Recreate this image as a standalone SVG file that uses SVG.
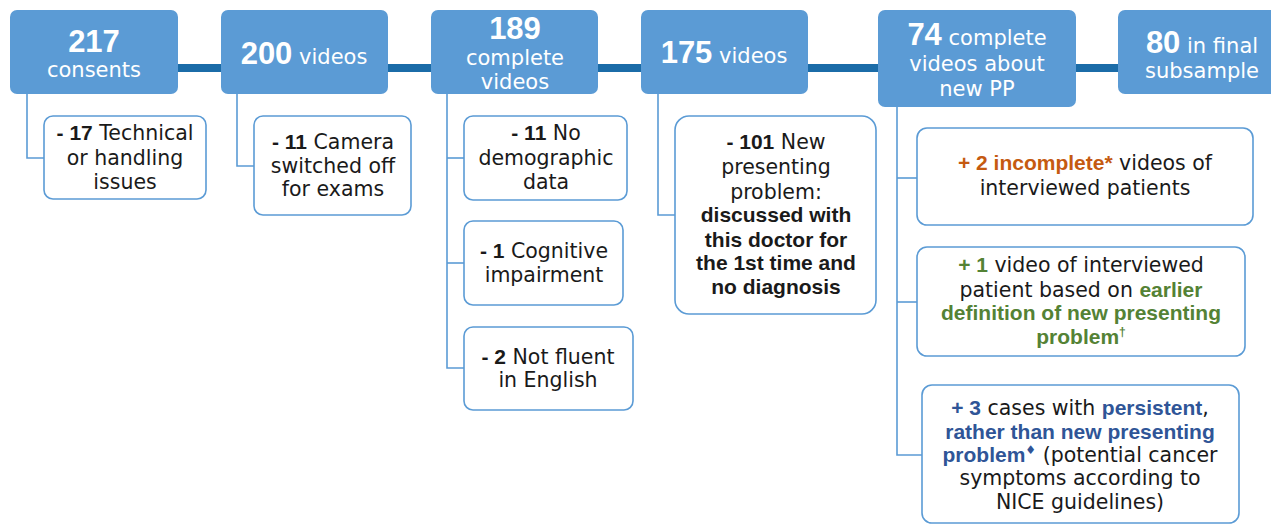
<svg xmlns="http://www.w3.org/2000/svg" width="1271" height="524" viewBox="0 0 1271 524">
<style>
.top{fill:#5b9bd5;}
.sub{fill:#ffffff;stroke:#5b9bd5;stroke-width:1.6;}
.tw{font-family:"DejaVu Sans",sans-serif;font-size:21px;fill:#ffffff;text-anchor:middle;}
.tn{font-family:"Liberation Sans",Arial,sans-serif;font-weight:bold;font-size:31px;fill:#ffffff;}
.t{font-family:"DejaVu Sans",sans-serif;font-size:20.5px;fill:#1a1a1a;text-anchor:middle;}
.b{font-family:"Liberation Sans",Arial,sans-serif;font-weight:bold;font-size:21px;}
.or{fill:#c55a11;}
.gr{fill:#548235;}
.bl{fill:#2f5597;}
.sup{font-size:12px;}
.main{stroke:#1b6ca8;stroke-width:8;fill:none;}
.lnk{stroke:#5b9bd5;stroke-width:1.6;fill:none;}
</style>
<g id="connectors">
<line class="main" x1="170" y1="68" x2="1130" y2="68"/>
<polyline class="lnk" points="27,94 27,158 44,158"/>
<polyline class="lnk" points="237,94 237,166 254,166"/>
<polyline class="lnk" points="447,94 447,368 464,368"/>
<line class="lnk" x1="447" y1="158" x2="464" y2="158"/>
<line class="lnk" x1="447" y1="263" x2="464" y2="263"/>
<polyline class="lnk" points="658,94 658,215 675,215"/>
<polyline class="lnk" points="897,107 897,455 922,455"/>
<line class="lnk" x1="897" y1="178" x2="917" y2="178"/>
<line class="lnk" x1="897" y1="302" x2="917" y2="302"/>
</g>
<g id="n217">
<rect class="top" x="10" y="10" width="168" height="84" rx="7"/>
<text class="tw" x="94" y="52"><tspan class="tn">217</tspan></text>
<text class="tw" x="94" y="77">consents</text>
</g>
<g id="n200">
<rect class="top" x="221" y="10" width="167" height="84" rx="7"/>
<text class="tw" x="304" y="64"><tspan class="tn">200</tspan> videos</text>
</g>
<g id="n189">
<rect class="top" x="431" y="10" width="167" height="84" rx="7"/>
<text class="tw" x="515" y="39"><tspan class="tn">189</tspan></text>
<text class="tw" x="515" y="65">complete</text>
<text class="tw" x="515" y="89">videos</text>
</g>
<g id="n175">
<rect class="top" x="641" y="10" width="167" height="84" rx="7"/>
<text class="tw" x="724" y="63"><tspan class="tn">175</tspan> videos</text>
</g>
<g id="n74">
<rect class="top" x="878" y="10" width="198" height="97" rx="7"/>
<text class="tw" x="977" y="45"><tspan class="tn">74</tspan> complete</text>
<text class="tw" x="977" y="71">videos about</text>
<text class="tw" x="977" y="96">new PP</text>
</g>
<g id="n80">
<rect class="top" x="1118" y="10" width="170" height="84" rx="7"/>
<text class="tw" x="1202" y="53"><tspan class="tn">80</tspan> in final</text>
<text class="tw" x="1202" y="78">subsample</text>
</g>
<g id="s17">
<rect class="sub" x="44" y="116" width="162" height="83" rx="9"/>
<text class="t" x="125" y="140"><tspan class="b">- 17</tspan> Technical</text>
<text class="t" x="125" y="165">or handling</text>
<text class="t" x="125" y="189">issues</text>
</g>
<g id="s11cam">
<rect class="sub" x="254" y="116" width="157" height="99" rx="9"/>
<text class="t" x="333" y="149"><tspan class="b">- 11</tspan> Camera</text>
<text class="t" x="333" y="173">switched off</text>
<text class="t" x="333" y="196">for exams</text>
</g>
<g id="s11demo">
<rect class="sub" x="464" y="116" width="163" height="84" rx="9"/>
<text class="t" x="546" y="140"><tspan class="b">- 11</tspan> No</text>
<text class="t" x="546" y="165">demographic</text>
<text class="t" x="546" y="189">data</text>
</g>
<g id="s1cog">
<rect class="sub" x="464" y="221" width="159" height="84" rx="9"/>
<text class="t" x="544" y="258"><tspan class="b">- 1</tspan> Cognitive</text>
<text class="t" x="544" y="282">impairment</text>
</g>
<g id="s2eng">
<rect class="sub" x="464" y="327" width="169" height="83" rx="9"/>
<text class="t" x="548" y="364"><tspan class="b">- 2</tspan> Not fluent</text>
<text class="t" x="548" y="387">in English</text>
</g>
<g id="s101">
<rect class="sub" x="675" y="116" width="201" height="198" rx="14"/>
<text class="t" x="776" y="149"><tspan class="b">- 101</tspan> New</text>
<text class="t" x="776" y="174">presenting</text>
<text class="t" x="776" y="199">problem:</text>
<text class="t b" x="776" y="222">discussed with</text>
<text class="t b" x="776" y="247">this doctor for</text>
<text class="t b" x="776" y="270">the 1st time and</text>
<text class="t b" x="776" y="294">no diagnosis</text>
</g>
<g id="e2inc">
<rect class="sub" x="917" y="128" width="336" height="97" rx="10"/>
<text class="t" x="1085" y="170"><tspan class="b or">+ 2 incomplete*</tspan> videos of</text>
<text class="t" x="1085" y="195">interviewed patients</text>
</g>
<g id="e1vid">
<rect class="sub" x="917" y="247" width="328" height="109" rx="10"/>
<text class="t" x="1081" y="272"><tspan class="b gr">+ 1</tspan> video of interviewed</text>
<text class="t" x="1081" y="297">patient based on <tspan class="b gr">earlier</tspan></text>
<text class="t b gr" x="1081" y="320">definition of new presenting</text>
<text class="t b gr" x="1081" y="344">problem<tspan class="sup" dy="-8">†</tspan></text>
</g>
<g id="e3cases">
<rect class="sub" x="922" y="385" width="317" height="138" rx="10"/>
<text class="t" x="1080" y="415"><tspan class="b bl">+ 3</tspan> cases with <tspan class="b bl">persistent</tspan>,</text>
<text class="t b bl" x="1080" y="439">rather than new presenting</text>
<text class="t" x="1080" y="462"><tspan class="b bl">problem</tspan><tspan class="bl sup" dy="-8">♦</tspan><tspan dy="8"> (potential cancer</tspan></text>
<text class="t" x="1080" y="485">symptoms according to</text>
<text class="t" x="1080" y="509">NICE guidelines)</text>
</g>
</svg>
